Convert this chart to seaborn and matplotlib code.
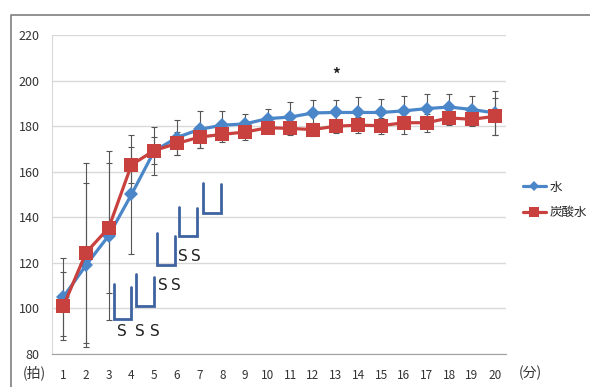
import numpy as np
import pandas as pd
import matplotlib
matplotlib.use("Agg")
import matplotlib.pyplot as plt
from matplotlib.lines import Line2D
import seaborn as sns

# heart rate (beats) per minute
minutes = list(range(1, 21))
water = [105, 119, 132, 150, 169, 175, 178.6, 180.4, 181, 183.3,
         184, 185.8, 186, 186, 186, 186.7, 187.7, 188.4, 187.3, 185.8]
water_sd = [17, 36, 37, 26, 10.5, 7.6, 8, 6.3, 4.5, 4.4,
            6.6, 5.6, 5.4, 6.6, 5.7, 6.4, 6.6, 5.9, 5.8, 9.5]
soda = [101, 124.5, 135.4, 163, 169.3, 172.4, 175.2, 176.4, 177.4, 179.3,
        179, 178.5, 180, 180.4, 180.2, 181.5, 181.5, 183.6, 183, 184.3]
soda_sd = [15, 39.5, 28.6, 8, 6, 5, 5, 3.5, 3.7, 2.5,
           3, 3, 3, 3.5, 3.5, 5, 4, 3, 3, 8]
series_names = ["水", "炭酸水"]
yticks = [80, 100, 120, 140, 160, 180, 200, 220]

# significance brackets: (x left, x right, top left, top right, bottom)
brackets = [
    (3.24, 3.98, 110.7, 109.4, 95.3),
    (4.20, 5.00, 115.0, 114.0, 101.0),
    (5.14, 5.92, 133.0, 132.0, 119.0),
    (6.10, 6.87, 144.4, 144.0, 132.0),
    (7.17, 7.93, 155.0, 154.4, 141.7),
]
# "S" labels: (x, y, text)
s_labels = [
    (3.57, 90, "S"), (4.35, 90, "S"), (5.04, 90, "S"),
    (5.38, 110, "S"), (5.96, 110, "S"),
    (6.26, 123, "S"), (6.83, 123, "S"),
]

blue = "#4A86C8"
red = "#C8413E"
cjk = ["Noto Sans CJK JP", "DejaVu Sans"]

sns.set_style("white")
plt.rcParams["font.family"] = cjk

df = pd.DataFrame({
    "minute": minutes * 2,
    "bpm": water + soda,
    "sd": water_sd + soda_sd,
    "group": [series_names[0]] * 20 + [series_names[1]] * 20,
})

fig = plt.figure(figsize=(5.9, 3.87), dpi=100)
ax = fig.add_axes([52 / 590, 1 - 354 / 387, 454 / 590, 319 / 387])

colors = {series_names[0]: blue, series_names[1]: red}
for name in series_names:
    sub = df[df["group"] == name]
    ax.errorbar(sub["minute"], sub["bpm"], yerr=sub["sd"], fmt="none",
                ecolor="#555555", elinewidth=0.8, capsize=2.5, capthick=0.8,
                zorder=2)

sns.lineplot(data=df, x="minute", y="bpm", hue="group", style="group",
             palette=colors, markers={series_names[0]: "D", series_names[1]: "s"},
             dashes=False, linewidth=2.3, markersize=7, markeredgewidth=0,
             legend=False, ax=ax, zorder=3)
# bigger red squares
for line in ax.lines:
    if line.get_marker() == "s":
        line.set_markersize(9.5)

for xl, xr, tl, tr, b in brackets:
    ax.plot([xl, xl, xr, xr], [tl, b, b, tr], color="#3F63A0", lw=2,
            solid_joinstyle="miter", zorder=4)
for x, y, t in s_labels:
    ax.text(x, y, t, ha="center", va="center", fontsize=11,
            family="DejaVu Sans", color="#222222")
ax.text(13, 202.4, "*", ha="center", va="center", fontsize=11,
        fontweight="bold", color="#222222")

ax.set_xlim(0.5, 20.5)
ax.set_ylim(80, 220)
ax.set_yticks(yticks)
ax.set_xticks(minutes)
ax.set_xticks(np.arange(0.5, 21, 1), minor=True)
ax.tick_params(axis="x", which="major", length=0, pad=11, labelsize=8.5,
               colors="#333333")
ax.tick_params(axis="x", which="minor", length=4, direction="out",
               color="#999999", width=0.8)
ax.tick_params(axis="y", length=0, pad=9, labelsize=9, colors="#333333")
ax.set_xlabel("")
ax.set_ylabel("")
ax.grid(axis="y", color="#D9D9D9", lw=1)
for side in ["top", "right"]:
    ax.spines[side].set_visible(False)
ax.spines["left"].set_color("#D9D9D9")
ax.spines["bottom"].set_color("#A0A0A0")

fig.text(34 / 590, 1 - 373 / 387, "(拍)", ha="center", va="center",
         fontsize=10, color="#333333")
fig.text(530 / 590, 1 - 373 / 387, "(分)", ha="center", va="center",
         fontsize=10, color="#333333")

handles = [
    Line2D([], [], color=blue, marker="D", lw=2.3, markersize=5,
           markeredgewidth=0),
    Line2D([], [], color=red, marker="s", lw=2.3, markersize=7,
           markeredgewidth=0),
]
fig.legend(handles, series_names, loc="center left",
           bbox_to_anchor=(518 / 590, 1 - 200 / 387), frameon=False,
           handlelength=1.8, handletextpad=0.3, labelspacing=1.0,
           fontsize=9, borderaxespad=0)

# chart-area border (top and left)
fig.add_artist(Line2D([11 / 590, 11 / 590, 1], [0, 1 - 15 / 387, 1 - 15 / 387],
                      color="#7F7F7F", lw=1.2))

fig.savefig("out.png", dpi=100)
